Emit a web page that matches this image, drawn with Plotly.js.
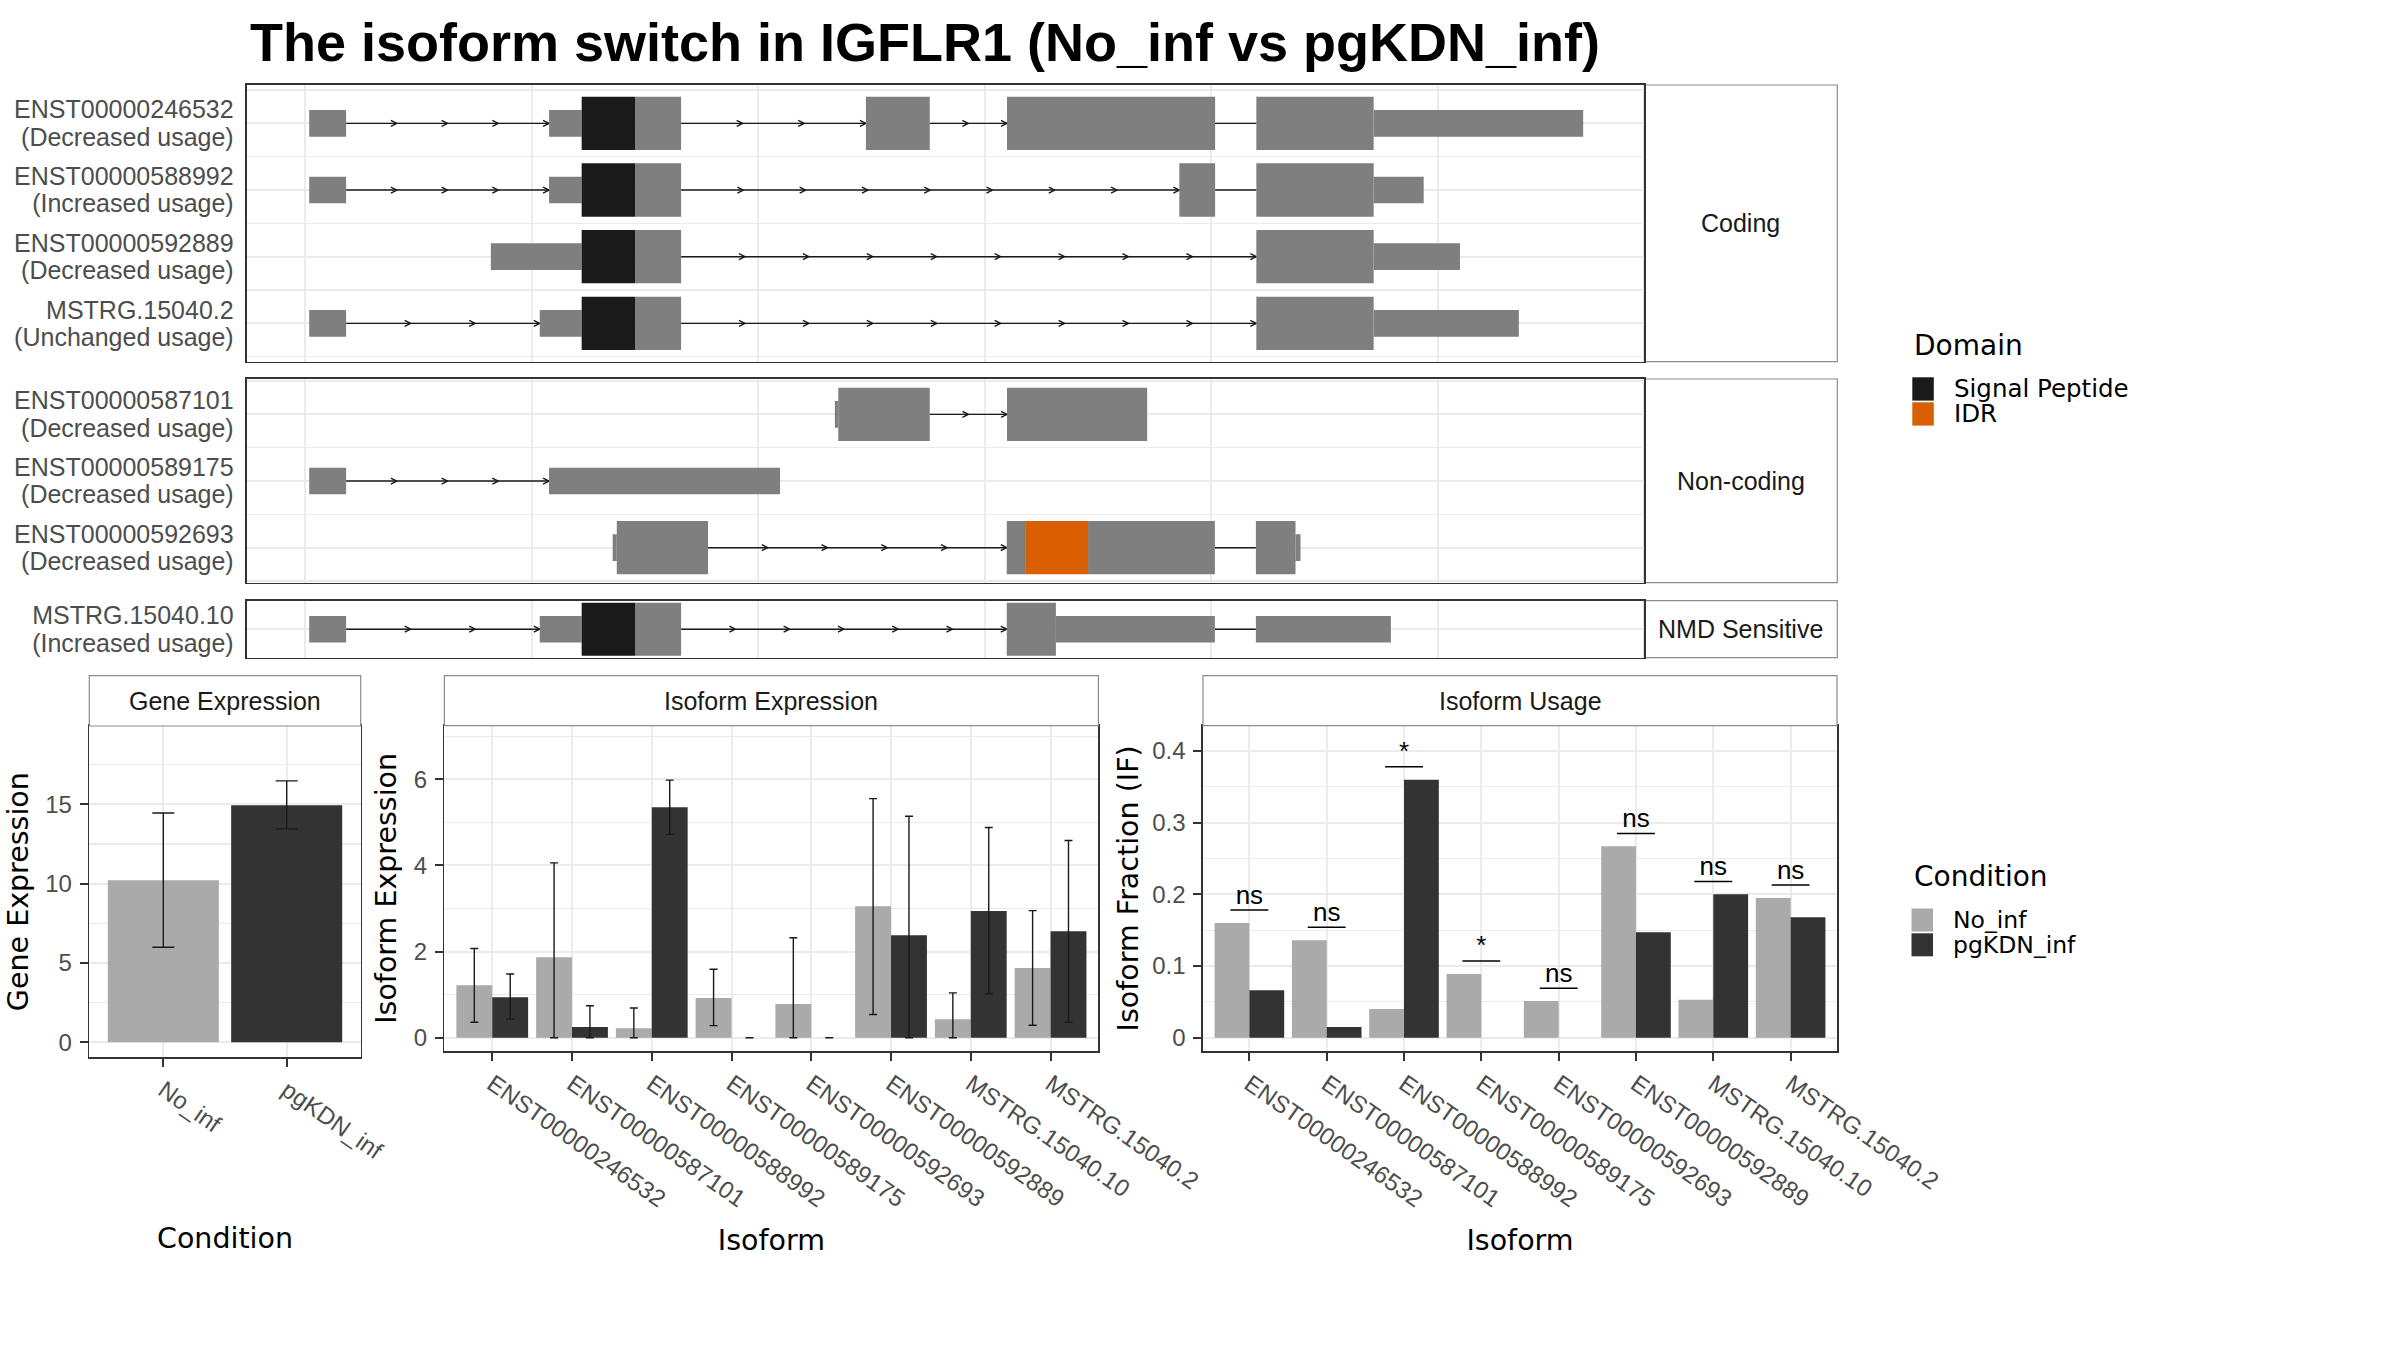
<!DOCTYPE html>
<html><head><meta charset="utf-8">
<script src="https://cdn.plot.ly/plotly-3.0.1.min.js"></script>
<style>html,body{margin:0;padding:0;background:#fff}#chart{width:2400px;height:1350px}</style>
</head><body><div id="chart"></div>
<script>
// ================= DATA =================
const titleText = 'The isoform switch in IGFLR1 (No_inf vs pgKDN_inf)';

// transcripts (top panels)
const transcriptNames = ['ENST00000246532','ENST00000588992','ENST00000592889','MSTRG.15040.2',
                         'ENST00000587101','ENST00000589175','ENST00000592693','MSTRG.15040.10'];
const transcriptUsage = ['Decreased','Increased','Decreased','Unchanged',
                         'Decreased','Decreased','Decreased','Increased'];
const transcriptClass = ['Coding','Coding','Coding','Coding',
                         'Non-coding','Non-coding','Non-coding','NMD Sensitive'];
const classOrder = ['Coding','Non-coding','NMD Sensitive'];

// exon features (relative genomic position), one entry per feature
const featTranscript = [0,0,0,0,0,0,0,0, 1,1,1,1,1,1,1, 2,2,2,2,2, 3,3,3,3,3,3,
                        4,4,4, 5,5, 6,6,6,6,6,6,6, 7,7,7,7,7,7,7];
const featStart = [0.018,1.077,1.221,1.457,2.476,3.099,4.200,4.718,
                   0.018,1.077,1.221,1.457,3.860,4.200,4.718,
                   0.820,1.221,1.457,4.200,4.718,
                   0.018,1.036,1.221,1.457,4.200,4.718,
                   2.339,2.354,3.099,
                   0.018,1.077,
                   1.358,1.376,3.098,3.179,3.457,4.198,4.373,
                   0.018,1.036,1.221,1.457,3.098,3.315,4.198];
const featEnd   = [0.181,1.221,1.457,1.660,2.758,4.018,4.718,5.643,
                   0.181,1.221,1.457,1.660,4.018,4.718,4.939,
                   1.221,1.457,1.660,4.718,5.099,
                   0.181,1.221,1.457,1.660,4.718,5.359,
                   2.354,2.758,3.718,
                   0.181,2.097,
                   1.376,1.779,3.179,3.457,4.017,4.373,4.395,
                   0.181,1.221,1.457,1.660,3.315,4.017,4.794];
const featType  = ['UTR','UTR','Signal Peptide','CDS','CDS','CDS','CDS','UTR',
                   'UTR','UTR','Signal Peptide','CDS','CDS','CDS','UTR',
                   'UTR','Signal Peptide','CDS','CDS','UTR',
                   'UTR','UTR','Signal Peptide','CDS','CDS','UTR',
                   'UTR','CDS','CDS',
                   'UTR','UTR',
                   'UTR','CDS','CDS','IDR','CDS','CDS','UTR',
                   'UTR','UTR','Signal Peptide','CDS','CDS','UTR','UTR'];

// legends
const domainNames = ['Signal Peptide','IDR'];
const domainColors = ['#1A1A1A','#D95F02'];
const conditionNames = ['No_inf','pgKDN_inf'];
const conditionColors = ['#AAAAAA','#333333'];

// gene expression
const geneExp   = [10.21, 14.94];
const geneExpLo = [5.99, 13.45];
const geneExpHi = [14.45, 16.47];

// isoform expression / usage
const isoforms = ['ENST00000246532','ENST00000587101','ENST00000588992','ENST00000589175',
                  'ENST00000592693','ENST00000592889','MSTRG.15040.10','MSTRG.15040.2'];
const isoExpNoInf   = [1.22, 1.87, 0.22, 0.92, 0.78, 3.05, 0.43, 1.62];
const isoExpNoInfLo = [0.36, 0.00, 0.00, 0.28, 0.00, 0.54, 0.00, 0.29];
const isoExpNoInfHi = [2.07, 4.06, 0.69, 1.59, 2.32, 5.55, 1.04, 2.95];
const isoExpPg      = [0.94, 0.25, 5.35, 0.00, 0.00, 2.38, 2.94, 2.47];
const isoExpPgLo    = [0.43, 0.00, 4.72, 0.00, 0.00, 0.00, 1.02, 0.36];
const isoExpPgHi    = [1.48, 0.74, 5.98, 0.00, 0.00, 5.14, 4.88, 4.58];
const usageNoInf = [0.160, 0.136, 0.040, 0.089, 0.051, 0.267, 0.053, 0.195];
const usagePg    = [0.066, 0.015, 0.360, 0.000, 0.000, 0.147, 0.200, 0.168];
const usageSig   = ['ns','ns','*','*','ns','ns','ns','ns'];

// ================= STYLE / LAYOUT HELPERS =================
const W = 2400, H = 1350;
const fx = v => v / W;
const fy = v => 1 - v / H;
const SANS = 'Liberation Sans, Arial, Helvetica, sans-serif';
const WIDE = 'DejaVu Sans, Verdana, sans-serif';
const GRID = '#EBEBEB';
const BORDER = '#333333';
const typeColor = {'UTR':'#7F7F7F','CDS':'#7F7F7F','Signal Peptide':domainColors[0],'IDR':domainColors[1]};
const typeHalf = {'UTR':0.2,'CDS':0.4,'Signal Peptide':0.4,'IDR':0.4};

const trXpx = [246.7, 1644.3];
const panelYpx = {'Coding':[85,361.7],'Non-coding':[379,582.7],'NMD Sensitive':[600.7,657.7]};
const panelYrange = {'Coding':[4.575,0.425],'Non-coding':[3.525,0.47],'NMD Sensitive':[1.428,0.571]};
const trXrange = [-0.258, 5.913];
const stripX = [1644.3, 1837.3];
const LINE_OFF = 0.204;   // half line spacing of the two-line row labels, in row units

const traces = [];
const layout = {
  width: W, height: H, margin:{l:0,r:0,t:0,b:0},
  paper_bgcolor:'#fff', plot_bgcolor:'#fff', showlegend:false, hovermode:false,
  barmode:'group', bargap:0.1, bargroupgap:0,
  title:{text:titleText, x:fx(250), xanchor:'left', xref:'paper', y:fy(42.2), yanchor:'middle', yref:'paper',
         font:{family:SANS, size:54, color:'#000', weight:'bold'}},
  shapes:[], annotations:[]
};

// ---------- transcript panels ----------
classOrder.forEach((cls, ci) => {
  const xa = ci === 0 ? 'x' : 'x' + (ci + 1);
  const ya = ci === 0 ? 'y' : 'y' + (ci + 1);
  const members = transcriptNames.map((n,i)=>i).filter(i => transcriptClass[i] === cls);
  const rowOf = {}; members.forEach((t,k) => rowOf[t] = k + 1);
  const yr = panelYrange[cls];
  const rows = members.map((t,k)=>k+1);
  const minorVals = [];
  for (let v = 0.5; v <= members.length + 0.5; v += 1) minorVals.push(v);
  const dom = [fy(panelYpx[cls][1]), fy(panelYpx[cls][0])];

  layout['xaxis' + (ci ? ci + 1 : '')] = {
    domain:[fx(trXpx[0]), fx(trXpx[1])], range: trXrange, anchor: ya,
    showticklabels:false, ticks:'', tickmode:'array', tickvals:[0,1,2,3,4,5],
    showgrid:true, gridcolor:GRID, gridwidth:2, zeroline:false,
    showline:true, mirror:true, linecolor:BORDER, linewidth:1.6, fixedrange:true
  };
  layout['yaxis' + (ci ? ci + 1 : '')] = {
    domain:dom, range: yr, anchor: xa,
    tickmode:'array', tickvals: rows, showticklabels:false, ticks:'',
    showgrid:true, gridcolor:GRID, gridwidth:2, zeroline:false,
    minor:{tickmode:'array', tickvals:minorVals, showgrid:true, gridcolor:GRID, gridwidth:1.2, ticks:''},
    showline:true, mirror:true, linecolor:BORDER, linewidth:1.6, fixedrange:true
  };
  // two-line row labels: transcript id above, usage change below (overlaid label axes)
  [[-LINE_OFF, members.map(t => transcriptNames[t])],
   [ LINE_OFF, members.map(t => '(' + transcriptUsage[t] + ' usage)')]].forEach((spec, li) => {
    const ovId = 7 + ci * 2 + li;
    layout['yaxis' + ovId] = {
      domain:dom, range: yr, anchor: xa, overlaying: ya, side:'left',
      tickmode:'array', tickvals: rows.map(r => r + spec[0]), ticktext: spec[1],
      ticks:'', ticklabelstandoff:12,
      tickfont:{family:SANS, size:25, color:'#4D4D4D'},
      showgrid:false, zeroline:false, showline:false, fixedrange:true
    };
    traces.push({type:'scatter', mode:'markers', x:[], y:[], xaxis:xa, yaxis:'y' + ovId, hoverinfo:'skip'});
  });

  // introns (lines + chevrons) computed from gaps between features
  const lx = [], ly = [], ax = [], ay = [];
  members.forEach(t => {
    const idx = featTranscript.map((v,i)=>i).filter(i => featTranscript[i] === t)
                 .sort((a,b)=>featStart[a]-featStart[b]);
    const r = rowOf[t];
    for (let k = 0; k < idx.length - 1; k++) {
      const a = featEnd[idx[k]], b = featStart[idx[k+1]];
      const gap = b - a;
      if (gap <= 0.005) continue;
      lx.push(a, b, null); ly.push(r, r, null);
      const n = gap < 0.25 ? 0 : Math.ceil(gap / 0.287);
      for (let j = 1; j <= n; j++) {
        const p = a + gap * j / n;
        ax.push(p - 0.0265, p, p - 0.0265, null);
        ay.push(r - 0.045, r, r + 0.045, null);
      }
    }
  });
  traces.push({type:'scatter', mode:'lines', x:lx, y:ly, xaxis:xa, yaxis:ya,
               line:{color:'#1A1A1A', width:1.4}, hoverinfo:'skip'});
  traces.push({type:'scatter', mode:'lines', x:ax, y:ay, xaxis:xa, yaxis:ya,
               line:{color:'#1A1A1A', width:1.4}, hoverinfo:'skip'});

  // exons by feature type
  ['UTR','CDS','Signal Peptide','IDR'].forEach(tp => {
    const xs = [], ys = [];
    featType.forEach((f,i) => {
      if (f !== tp || rowOf[featTranscript[i]] === undefined) return;
      const r = rowOf[featTranscript[i]], h = typeHalf[tp];
      xs.push(featStart[i], featEnd[i], featEnd[i], featStart[i], featStart[i], null);
      ys.push(r - h, r - h, r + h, r + h, r - h, null);
    });
    if (!xs.length) return;
    traces.push({type:'scatter', mode:'lines', x:xs, y:ys, xaxis:xa, yaxis:ya, fill:'toself',
                 fillcolor:typeColor[tp], line:{width:0, color:typeColor[tp]}, name:tp, hoverinfo:'skip'});
  });

  // strip on the right
  const yp = panelYpx[cls];
  layout.shapes.push({type:'rect', xref:'paper', yref:'paper', x0:fx(stripX[0]), x1:fx(stripX[1]),
    y0:fy(yp[1]), y1:fy(yp[0]), fillcolor:'#fff', line:{color:'#8C8C8C', width:1.2}, layer:'below'});
  layout.annotations.push({xref:'paper', yref:'paper', x:fx((stripX[0]+stripX[1])/2), y:fy((yp[0]+yp[1])/2),
    text:cls, showarrow:false, xanchor:'center', yanchor:'middle', font:{family:SANS, size:25, color:'#1A1A1A'}});
});

// ---------- bottom plots ----------
const bottom = [
  {id:4, x:[89.3,360.7],  y:[726,1057.3], strip:'Gene Expression',    yr:[-0.945,19.93], xr:[-0.6,1.6],
   dt:5, mdt:2.5, ytitle:'Gene Expression', xtitle:'Condition', ticks:conditionNames, ystand:8, xstand:64},
  {id:5, x:[444.4,1098.4],y:[725.7,1051], strip:'Isoform Expression', yr:[-0.309,7.244], xr:[-0.6,7.6],
   dt:2, mdt:1, ytitle:'Isoform Expression', xtitle:'Isoform', ticks:isoforms, ystand:8, xstand:18.5},
  {id:6, x:[1203,1837],   y:[725.7,1051], strip:'Isoform Usage',      yr:[-0.0186,0.4353], xr:[-0.6,7.6],
   dt:0.1, mdt:0.05, ytitle:'Isoform Fraction (IF)', xtitle:'Isoform', ticks:isoforms, ystand:5, xstand:18.5}
];
bottom.forEach(b => {
  layout['xaxis' + b.id] = {
    domain:[fx(b.x[0]), fx(b.x[1])], range:b.xr, anchor:'y' + b.id,
    tickmode:'array', tickvals:b.ticks.map((t,i)=>i), ticktext:b.ticks, tickangle:35,
    ticks:'outside', ticklen:8, tickwidth:2, tickcolor:BORDER,
    tickfont:{family:SANS, size:24, color:'#4D4D4D'},
    showgrid:true, gridcolor:GRID, gridwidth:2, zeroline:false,
    showline:true, mirror:true, linecolor:BORDER, linewidth:1.6, fixedrange:true,
    title:{text:b.xtitle, font:{family:WIDE, size:28.5, color:'#000'}, standoff:b.xstand}
  };
  layout['yaxis' + b.id] = {
    domain:[fy(b.y[1]), fy(b.y[0])], range:b.yr, anchor:'x' + b.id,
    tickmode:'linear', tick0:0, dtick:b.dt,
    ticks:'outside', ticklen:8, tickwidth:2, tickcolor:BORDER, ticklabelstandoff:3,
    tickfont:{family:SANS, size:24, color:'#4D4D4D'},
    showgrid:true, gridcolor:GRID, gridwidth:2, zeroline:false,
    minor:{tick0:0, dtick:b.mdt, showgrid:true, gridcolor:GRID, gridwidth:1.2, ticks:''},
    showline:true, mirror:true, linecolor:BORDER, linewidth:1.6, fixedrange:true,
    title:{text:b.ytitle, font:{family:WIDE, size:28.5, color:'#000'}, standoff:b.ystand}
  };
  layout.shapes.push({type:'rect', xref:'paper', yref:'paper', x0:fx(b.x[0]), x1:fx(b.x[1]),
    y0:fy(b.y[0]), y1:fy(675.7), fillcolor:'#fff', line:{color:'#8C8C8C', width:1.2}});
  layout.annotations.push({xref:'paper', yref:'paper', x:fx((b.x[0]+b.x[1])/2), y:fy((675.7+b.y[0])/2),
    text:b.strip, showarrow:false, xanchor:'center', yanchor:'middle', font:{family:SANS, size:25, color:'#1A1A1A'}});
});

const errStyle = (hi, lo, v, w) => ({type:'data', symmetric:false,
  array: hi.map((h,i)=>+(h - v[i]).toFixed(3)), arrayminus: lo.map((l,i)=>+(v[i] - l).toFixed(3)),
  width:w, thickness:1.4, color:'#1A1A1A'});

// gene expression
traces.push({type:'bar', x:[0,1], y:geneExp, xaxis:'x4', yaxis:'y4',
  marker:{color:conditionColors}, error_y:errStyle(geneExpHi, geneExpLo, geneExp, 11), hoverinfo:'skip'});
// isoform expression
const idx = isoforms.map((n,i)=>i);
traces.push({type:'bar', x:idx, y:isoExpNoInf, xaxis:'x5', yaxis:'y5', name:conditionNames[0],
  marker:{color:conditionColors[0]}, error_y:errStyle(isoExpNoInfHi, isoExpNoInfLo, isoExpNoInf, 4), hoverinfo:'skip'});
traces.push({type:'bar', x:idx, y:isoExpPg, xaxis:'x5', yaxis:'y5', name:conditionNames[1],
  marker:{color:conditionColors[1]}, error_y:errStyle(isoExpPgHi, isoExpPgLo, isoExpPg, 4), hoverinfo:'skip'});
// isoform usage
traces.push({type:'bar', x:idx, y:usageNoInf, xaxis:'x6', yaxis:'y6', name:conditionNames[0],
  marker:{color:conditionColors[0]}, hoverinfo:'skip'});
traces.push({type:'bar', x:idx, y:usagePg, xaxis:'x6', yaxis:'y6', name:conditionNames[1],
  marker:{color:conditionColors[1]}, hoverinfo:'skip'});
// significance markers
const sigY = idx.map(i => Math.max(usageNoInf[i], usagePg[i]) + 0.018);
const sx = [], sy = [];
idx.forEach(i => { sx.push(i - 0.245, i + 0.245, null); sy.push(sigY[i], sigY[i], null); });
traces.push({type:'scatter', mode:'lines', x:sx, y:sy, xaxis:'x6', yaxis:'y6',
  line:{color:'#000', width:1.5}, hoverinfo:'skip'});
traces.push({type:'scatter', mode:'text', x:idx, y:sigY, text:usageSig, textposition:'top center',
  textfont:{family:SANS, size:26, color:'#000'}, xaxis:'x6', yaxis:'y6', hoverinfo:'skip'});

// ---------- legends (drawn) ----------
function drawLegend(title, names, colors, titleY, keyX, keyTop, step, keyH, textX, size) {
  layout.annotations.push({xref:'paper', yref:'paper', x:fx(keyX), y:fy(titleY), text:title, showarrow:false,
    xanchor:'left', yanchor:'middle', font:{family:WIDE, size:28, color:'#000'}});
  names.forEach((n,i) => {
    const t = keyTop + i * step;
    layout.shapes.push({type:'rect', xref:'paper', yref:'paper', x0:fx(keyX), x1:fx(keyX + 21.5),
      y0:fy(t + keyH), y1:fy(t), fillcolor:colors[i], line:{width:0}});
    layout.annotations.push({xref:'paper', yref:'paper', x:fx(textX), y:fy(t + keyH / 2), text:n, showarrow:false,
      xanchor:'left', yanchor:'middle', font:{family:WIDE, size:size, color:'#000'}});
  });
}
drawLegend('Domain', domainNames, domainColors, 346, 1912.3, 377.3, 25, 23.3, 1951.7, 24.5);
drawLegend('Condition', conditionNames, conditionColors, 876.5, 1911.5, 908.5, 24.8, 23, 1950.7, 23.5);

Plotly.newPlot('chart', traces, layout, {staticPlot:true, displayModeBar:false});
</script>
</body></html>
